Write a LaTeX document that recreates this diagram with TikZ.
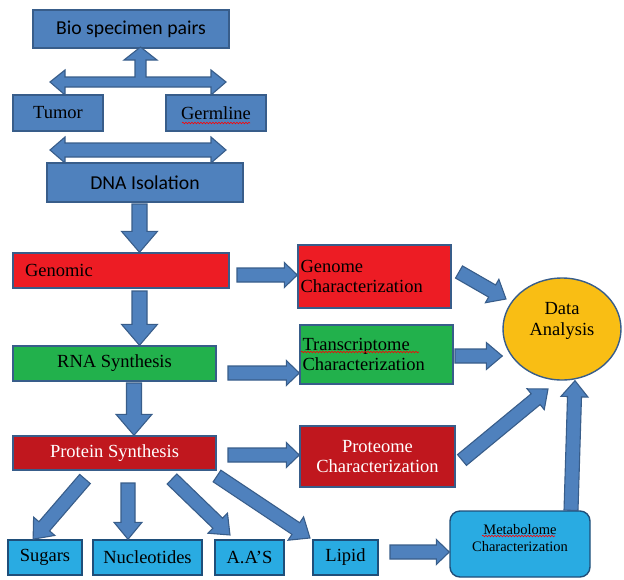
\documentclass[tikz,border=0pt]{standalone}
\usepackage{fontspec}
\setmainfont{Liberation Serif}
\newfontfamily\calib{Carlito}
\usetikzlibrary{calc,shapes.geometric,decorations.pathmorphing}

\definecolor{boxblue}{HTML}{4F81BD}
\definecolor{boxline}{HTML}{385D8A}
\definecolor{genred}{HTML}{ED1C24}
\definecolor{rnagreen}{HTML}{22B14C}
\definecolor{protred}{HTML}{C0171E}
\definecolor{skyblue}{HTML}{29ABE2}
\definecolor{skyline}{HTML}{1F4E79}
\definecolor{datayellow}{HTML}{F9BE14}

% sizes of the block arrows
\def\shaftw{7pt}
\def\headw{13pt}
\def\headl{15pt}
\newcommand{\blockarrow}[2]{%
	\draw[arrowbody] let \p1=(#1), \p2=(#2),
		\n1={atan2(\y2-\y1,\x2-\x1)}, \n2={veclen(\x2-\x1,\y2-\y1)} in
		[shift={(\p1)}, rotate=\n1]
		(0pt,-\shaftw) -- ({\n2*1pt-\headl},-\shaftw) -- ({\n2*1pt-\headl},-\headw)
		-- ({\n2*1pt},0pt) -- ({\n2*1pt-\headl},\headw) -- ({\n2*1pt-\headl},\shaftw)
		-- (0pt,\shaftw) -- cycle;}

\begin{document}
\begin{tikzpicture}[x=1pt,y=-1pt]
	\tikzstyle{arrowbody} = [draw=boxline, fill=boxblue, line width=1.1pt, line join=miter]
	\tikzstyle{box} = [rectangle, line width=1.4pt, inner sep=0pt,
		font=\fontsize{18.5}{20}\selectfont]
	\tikzstyle{bluebox} = [box, draw=boxline, fill=boxblue]
	\tikzstyle{skybox} = [box, draw=skyline, fill=skyblue]
	\tikzstyle{spell} = [draw=red, line width=0.6pt, decorate,
		decoration={snake, amplitude=0.8pt, segment length=3pt}]
	\useasboundingbox (0,0) rectangle (624,579);

	\node[bluebox, minimum width=196pt, minimum height=38pt, font=\calib\fontsize{19.7}{21}\selectfont]
		(bio) at (131,29) {Bio specimen pairs};
	\node[bluebox, minimum width=90pt, minimum height=36pt] (tumor) at (58,113) {Tumor};
	\node[bluebox, minimum width=100pt, minimum height=36pt] (germ) at (216,113) {Germline};
	\node[bluebox, minimum width=196pt, minimum height=39pt, font=\calib\fontsize{19.7}{21}\selectfont]
		(dna) at (145,182.5) {DNA Isolation};

	\node[box, draw=boxline, fill=genred, minimum width=216pt, minimum height=35pt,
		text width=192pt, align=left] (gen) at (121,270.5) {Genomic};
	\node[box, draw=boxline, fill=genred, minimum width=153pt, minimum height=63pt,
		text width=148pt, align=left] (genc) at (374.5,276.5) {Genome\\Characterization};
	\node[box, draw=boxline, fill=rnagreen, minimum width=203pt, minimum height=35pt]
		(rna) at (114.5,363.5) {RNA Synthesis};
	\node[box, draw=boxline, fill=rnagreen, minimum width=153pt, minimum height=59pt,
		text width=148pt, align=left] (trans) at (376.5,354.5) {Transcriptome\\Characterization};
	\node[box, draw=boxline, fill=protred, text=white, minimum width=203pt, minimum height=34pt]
		(prot) at (114.5,453) {Protein Synthesis};
	\node[box, draw=boxline, fill=protred, text=white, minimum width=155pt, minimum height=61pt,
		align=center] (protc) at (377.5,456.5) {Proteome\\Characterization};

	\node[ellipse, draw=boxline, fill=datayellow, line width=1.4pt, minimum width=118pt,
		minimum height=102pt, inner sep=0pt, align=center, text depth=20pt,
		font=\fontsize{18.5}{21}\selectfont] (data) at (562,329) {Data\\Analysis};

	\node[skybox, minimum width=74pt, minimum height=35pt] (sug) at (45,557.5) {Sugars};
	\node[skybox, minimum width=109pt, minimum height=35pt] (nuc) at (147.5,557.5) {Nucleotides};
	\node[skybox, minimum width=69pt, minimum height=35pt] (aas) at (249.5,557.5) {A.A’S};
	\node[skybox, minimum width=65pt, minimum height=35pt] (lip) at (345.5,557.5) {Lipid};
	\node[skybox, rounded corners=10pt, minimum width=140pt, minimum height=66pt, align=center,
		text depth=12pt, font=\fontsize{14.5}{17}\selectfont] (meta) at (520,544) {Metabolome\\Characterization};

	% spell check marks
	\draw[spell] (182,123) -- (250,123);
	\draw[spell] (301,352) -- (419,352);
	\draw[spell] (482,536) -- (555,536);

	% pairs join up to the specimen box
	\draw[arrowbody] (50,82) -- (65,70) -- (65,77) -- (135,77) -- (135,60) -- (124,60)
		-- (140.5,47) -- (157,60) -- (146,60) -- (146,77) -- (211,77) -- (211,70)
		-- (226,82) -- (211,95) -- (211,87) -- (65,87) -- (65,95) -- cycle;
	\draw[arrowbody] (50,150) -- (65,137) -- (65,143) -- (211,143) -- (211,137)
		-- (226,150) -- (211,163) -- (211,157) -- (65,157) -- (65,163) -- cycle;

	% main column
	\def\shaftw{7.5pt}\def\headw{18pt}\def\headl{21pt}
	\coordinate (c1) at (139.5,204);
	\coordinate (c2) at (139.5,291);
	\coordinate (c3) at (134,383);
	\blockarrow{c1}{c1 |- gen.north}
	\blockarrow{c2}{c2 |- rna.north}
	\blockarrow{c3}{c3 |- prot.north}

	% to the characterizations
	\def\shaftw{7pt}\def\headw{12.5pt}\def\headl{13pt}
	\blockarrow{237,275}{genc.west |- 0,275}
	\blockarrow{228,373}{trans.west |- 0,373}
	\blockarrow{228,455}{protc.west |- 0,455}
	\blockarrow{390,552}{meta.west |- 0,552}

	% to the analysis
	\def\headw{13.5pt}\def\headl{16pt}
	\blockarrow{459,272}{506,299}
	\blockarrow{455,356}{data.west |- 0,356}
	\blockarrow{462,460}{548,389}
	\blockarrow{571,0 |- meta.north}{575,0 |- data.south}

	% products of protein synthesis
	\def\headw{14pt}\def\headl{17pt}
	\blockarrow{85,479}{33,0 |- sug.north}
	\blockarrow{128,483}{128,0 |- nuc.north}
	\blockarrow{172,479}{230,535}
	\blockarrow{217,476}{310,538}
\end{tikzpicture}
\end{document}
